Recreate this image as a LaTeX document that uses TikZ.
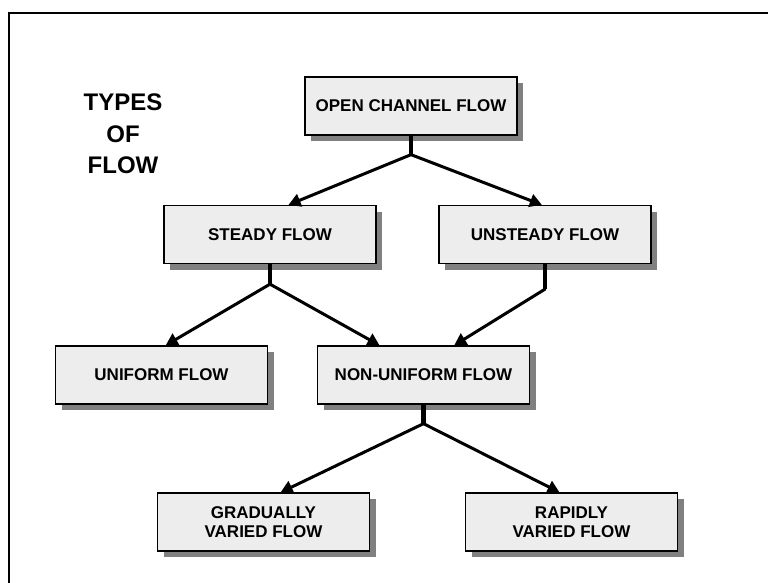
\documentclass[tikz,border=0pt]{standalone}
\usepackage{fontspec}
\setmainfont{Liberation Sans}
\usepackage{xcolor}
\usepackage{tikz}
\usetikzlibrary{arrows.meta,shadows}
\definecolor{boxgray}{HTML}{EDEDED}
\newcommand{\boxfont}{\fontsize{17}{19.5}\selectfont\bfseries}
\newcommand{\titlefont}{\fontsize{24}{31.7}\selectfont\bfseries}

\begin{document}
\begin{tikzpicture}[x=1pt,y=-1pt,
    flowbox/.style={draw=black,line width=1.3pt,fill=boxgray,
        minimum width=212pt,minimum height=58pt,inner sep=0pt,
        align=center,font=\boxfont,
        drop shadow={shadow xshift=6pt,shadow yshift=-6pt,fill=black!50,opacity=1}},
    stem/.style={line width=4.5pt},
    branch/.style={line width=3pt,line cap=round,-{Triangle[length=12pt,width=13pt]}}]
        \useasboundingbox (0,0) rectangle (768,583);

        % frame, only top and left sides
        \draw[line width=1.5pt] (768,13) -- (9,13) -- (9,583);

        % title
        \node[font=\titlefont,align=center] (title) at (123,134) {TYPES\\OF\\FLOW};

        % the boxes
        \node[flowbox] (open) at (411,106) {OPEN CHANNEL FLOW};
        \node[flowbox] (steady) at (270,234.5) {STEADY FLOW};
        \node[flowbox] (unsteady) at (545,234.5) {UNSTEADY FLOW};
        \node[flowbox] (uniform) at (161.5,375) {UNIFORM FLOW};
        \node[flowbox] (nonuniform) at (423.5,375) {NON-UNIFORM FLOW};
        \node[flowbox] (gradual) at (263.5,522) {GRADUALLY\\VARIED FLOW};
        \node[flowbox] (rapid) at (571.5,522) {RAPIDLY\\VARIED FLOW};

        % junctions below the boxes
        \coordinate (j1) at ([yshift=-19pt]open.south);
        \coordinate (j2) at ([yshift=-20pt]steady.south);
        \coordinate (j3) at ([yshift=-25pt]unsteady.south);
        \coordinate (j4) at ([yshift=-19pt]nonuniform.south);

        % stems
        \draw[stem] (open.south) -- (j1);
        \draw[stem] (steady.south) -- (j2);
        \draw[stem] (unsteady.south) -- (j3);
        \draw[stem] (nonuniform.south) -- (j4);

        % arrows, not always to the middle of a box
        \draw[branch] (j1) -- (steady.58);
        \draw[branch] (j1) -- (unsteady.96);
        \draw[branch] (j2) -- (uniform.82);
        \draw[branch] (j2) -- (nonuniform.146);
        \draw[branch] (j3) -- (nonuniform.44);
        \draw[branch] (j4) -- (gradual.60);
        \draw[branch] (j4) -- (rapid.112);

    \end{tikzpicture}
\end{document}
